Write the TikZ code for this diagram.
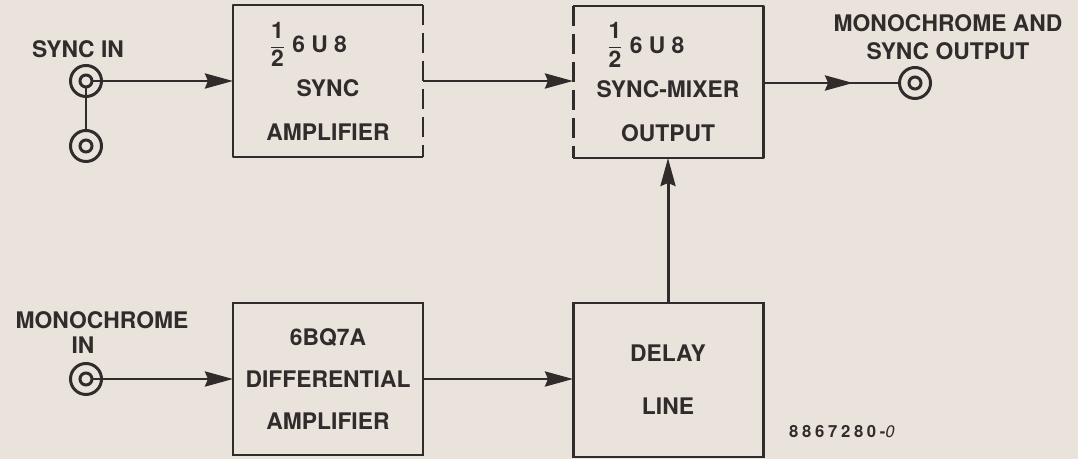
\documentclass[tikz,border=0pt]{standalone}
\usepackage{amsmath}
\usepackage{fontspec}
\setsansfont{TeX Gyre Heros}
\usepackage{tikz}
\usetikzlibrary{arrows.meta,positioning,calc,decorations.markings}
\definecolor{paper}{RGB}{234,227,220}
\definecolor{ink}{RGB}{50,43,43}
\newcommand{\half}{$\dfrac{\text{1}}{\text{2}}$}
\tikzset{
  blk/.style={minimum width=3.8cm, minimum height=3.04cm, outer sep=0pt, inner sep=0pt,
              align=center, text=ink, font=\sffamily\bfseries\fontsize{13}{25}\selectfont},
  frm/.style={ink, line width=1.7pt, line join=round},
  brk/.style={frm, dash pattern=on 4mm off 1.6mm},
  sig/.style={ink, line width=1.7pt, -{Stealth[length=5.6mm,width=3mm,inset=0.6mm]}},
  midsig/.style={ink, line width=1.7pt, postaction={decorate, decoration={markings,
      mark=at position 0.66 with {\arrow{Stealth[length=5.6mm,width=3mm,inset=0.6mm]}}}}},
  jack/.style={circle, draw=ink, line width=1.7pt, minimum size=6.2mm, inner sep=0pt, outer sep=0pt,
               path picture={\draw[ink, line width=1.7pt] (path picture bounding box.center) circle (1.2mm);}},
  lbl/.style={text=ink, align=center, font=\sffamily\bfseries\fontsize{13}{16}\selectfont},
}

\begin{document}
\begin{tikzpicture}
  \fill[paper] (0,0) rectangle (21.56,9.18);
  \useasboundingbox (0,0) rectangle (21.56,9.18);

  % blocks
  \node[blk] (sa) at (6.56,7.56) {\half\ 6 U 8\hspace*{0.8cm}\\SYNC\\AMPLIFIER};
  \node[blk] (mx) at (13.36,7.54) {\half\ 6 U 8\hspace*{0.9cm}\\SYNC-MIXER\\OUTPUT};
  \node[blk, draw=ink, line width=1.7pt, font=\sffamily\bfseries\fontsize{13}{24}\selectfont] (da) at (6.56,1.60)
       {6BQ7A\\DIFFERENTIAL\\AMPLIFIER};
  \node[blk, draw=ink, line width=1.7pt, minimum height=3.08cm, font=\sffamily\bfseries\fontsize{13}{30}\selectfont] (dl) at (13.36,1.58)
       {DELAY\\LINE};
  \draw[frm] (sa.north east) -- (sa.north west) -- (sa.south west) -- (sa.south east);
  \draw[brk] (sa.north east) -- (sa.south east);
  \draw[frm] (mx.north west) -- (mx.north east) -- (mx.south east) -- (mx.south west);
  \draw[brk] (mx.north west) -- (mx.south west);

  % jacks
  \node[jack] (si) at (1.72,7.56) {};
  \node[jack] (si2) at (1.72,6.26) {};
  \node[jack] (mi) at (1.72,1.60) {};
  \node[jack] (oj) at (18.30,7.52) {};

  \node[lbl] (silbl) at (1.56,8.20) {SYNC IN};
  \node[lbl, font=\sffamily\bfseries\fontsize{13}{14.5}\selectfont] (milbl) at (2.04,2.53) {MONOCHROME\\IN\hspace*{0.76cm}};
  \node[lbl] (ojlbl) at (18.96,8.44) {MONOCHROME AND\\SYNC OUTPUT};
  \node[text=ink, font=\sffamily\bfseries\fontsize{9.5}{10}\selectfont\addfontfeature{LetterSpace=22}] (num) at (16.84,0.54)
       {8867280-{\mdseries\itshape 0}};

  % signal paths
  \draw[frm, shorten <=1.2mm] (si.center) -- (si2);
  \draw[sig, shorten <=1.2mm] (si.center) -- (sa.west);
  \draw[sig] (sa.east) -- (sa.east -| mx.west);
  \draw[midsig] (mx.east |- oj) -- (oj);
  \draw[sig, shorten <=1.2mm] (mi.center) -- (da.west);
  \draw[sig] (da.east) -- (da.east -| dl.west);
  \draw[sig] (dl.north) -- (mx.south);
\end{tikzpicture}
\end{document}
